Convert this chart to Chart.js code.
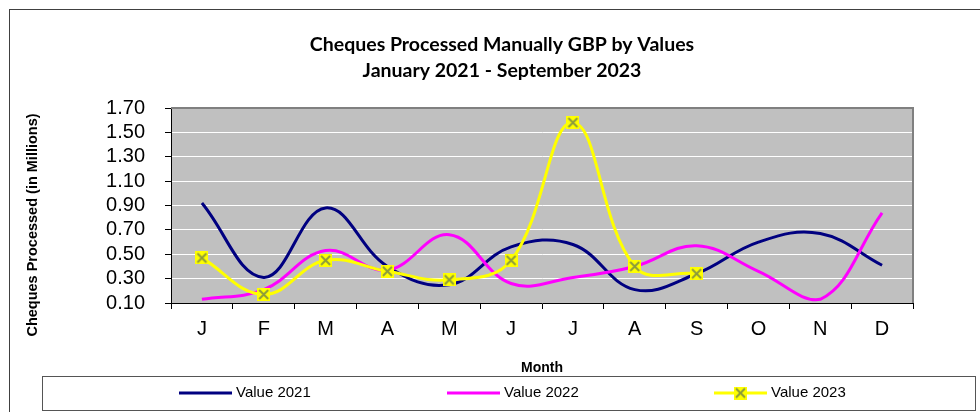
<!DOCTYPE html>
<html>
<head>
<meta charset="utf-8">
<script src="https://cdn.jsdelivr.net/npm/chart.js@4.4.1/dist/chart.umd.min.js"></script>
<style>
  html, body { margin: 0; padding: 0; background: #fff; }
  #wrap { position: relative; width: 980px; height: 412px; }
</style>
</head>
<body>
<div id="wrap"><canvas id="chart" width="980" height="412"></canvas></div>
<script>
// data
const months = ["J", "F", "M", "A", "M", "J", "J", "A", "S", "O", "N", "D"];
const value2021 = [0.92, 0.31, 0.88, 0.40, 0.25, 0.56, 0.58, 0.21, 0.34, 0.60, 0.67, 0.41];
const value2022 = [0.13, 0.21, 0.53, 0.37, 0.66, 0.26, 0.31, 0.40, 0.57, 0.36, 0.13, 0.84];
const value2023 = [0.47, 0.17, 0.45, 0.36, 0.29, 0.45, 1.58, 0.40, 0.34, null, null, null];
const yTicks = [0.10, 0.30, 0.50, 0.70, 0.90, 1.10, 1.30, 1.50, 1.70];

const titleLines = ["Cheques Processed Manually GBP by Values", "January 2021 - September 2023"];
const yTitle = "Cheques Processed (in Millions)";
const xTitle = "Month";

Chart.defaults.font.family = "'Liberation Sans', Arial, sans-serif";
Chart.defaults.color = "#000";

// yellow square with an olive cross, like the Excel marker
function makeMarker() {
    const c = document.createElement("canvas");
    c.width = 13; c.height = 13;
    const g = c.getContext("2d");
    g.fillStyle = "#FFFF00";
    g.fillRect(0, 0, 13, 13);
    g.strokeStyle = "#8C9C3C";
    g.lineWidth = 2;
    g.beginPath();
    g.moveTo(2, 2); g.lineTo(11, 11);
    g.moveTo(11, 2); g.lineTo(2, 11);
    g.stroke();
    return c;
}
const marker = makeMarker();

// grey plot area, outer frame, titles and boxed legend
const framePlugin = {
    id: "frame",
    beforeDraw(chart) {
        const { ctx, chartArea: a } = chart;
        ctx.save();
        ctx.fillStyle = "#C0C0C0";
        ctx.fillRect(a.left, a.top, a.right - a.left, a.bottom - a.top);
        ctx.restore();
    },
    beforeDatasetsDraw(chart) {
        const { ctx, chartArea: a } = chart;
        ctx.save();
        ctx.strokeStyle = "#808080";
        ctx.lineWidth = 2;
        ctx.beginPath();
        ctx.moveTo(a.left, a.top);
        ctx.lineTo(a.right, a.top);
        ctx.lineTo(a.right, a.bottom);
        ctx.stroke();
        ctx.restore();
    },
    afterDraw(chart) {
        const { ctx } = chart;
        ctx.save();
        // outer chart border
        ctx.strokeStyle = "#404040";
        ctx.lineWidth = 1;
        ctx.strokeRect(9.5, 9.5, 1100, 600);

        // chart title, two lines
        ctx.fillStyle = "#000";
        ctx.textAlign = "center";
        ctx.textBaseline = "middle";
        ctx.font = "bold 19.5px Lato, 'Open Sans', sans-serif";
        titleLines.forEach((t, i) => ctx.fillText(t, 502, 45 + i * 26));

        // y axis title
        ctx.translate(33, 225);
        ctx.rotate(-Math.PI / 2);
        ctx.font = "bold 14.5px 'Liberation Sans', Arial, sans-serif";
        ctx.fillText(yTitle, 0, 0);
        ctx.restore();

        // legend box
        ctx.save();
        ctx.strokeStyle = "#555";
        ctx.strokeRect(42.5, 376.5, 933, 34);
        const starts = [179, 447, 714];
        const y = 393;
        ctx.font = "15px 'Liberation Sans', Arial, sans-serif";
        ctx.textBaseline = "middle";
        ctx.fillStyle = "#000";
        chart.data.datasets.forEach((ds, i) => {
            const x = starts[i];
            ctx.strokeStyle = ds.borderColor;
            ctx.lineWidth = 3;
            ctx.beginPath();
            ctx.moveTo(x, y);
            ctx.lineTo(x + 53, y);
            ctx.stroke();
            if (ds.pointStyle instanceof HTMLCanvasElement) {
                ctx.drawImage(ds.pointStyle, x + 20, y - 6.5);
            }
            ctx.fillText(ds.label, x + 57, y);
        });
        ctx.restore();
    }
};

new Chart(document.getElementById("chart"), {
    type: "line",
    data: {
        labels: months,
        datasets: [
            {
                label: "Value 2021",
                data: value2021,
                borderColor: "#000080",
                borderWidth: 3,
                pointRadius: 0,
                tension: 0.4,
                order: 2
            },
            {
                label: "Value 2022",
                data: value2022,
                borderColor: "#FF00FF",
                borderWidth: 3,
                pointRadius: 0,
                tension: 0.4,
                order: 1
            },
            {
                label: "Value 2023",
                data: value2023,
                borderColor: "#FFFF00",
                borderWidth: 3,
                pointStyle: marker,
                pointRadius: 7,
                tension: 0.4,
                order: 0
            }
        ]
    },
    options: {
        responsive: false,
        animation: false,
        layout: { padding: { left: 20, right: 67, top: 108, bottom: 35 } },
        plugins: {
            legend: { display: false },
            tooltip: { enabled: false },
            title: { display: false }
        },
        scales: {
            x: {
                offset: true,
                grid: { offset: true, drawOnChartArea: false, drawTicks: true, tickLength: 6, tickColor: "#000" },
                border: { display: true, color: "#000", width: 1 },
                ticks: { padding: 8, font: { size: 20 }, color: "#000" },
                title: { display: true, text: xTitle, font: { size: 14, weight: "bold" }, padding: { top: 0, bottom: 0 } },
                afterFit: (s) => { s.height = 74; }
            },
            y: {
                min: 0.10,
                max: 1.70,
                afterBuildTicks: (s) => { s.ticks = yTicks.map(v => ({ value: v })); },
                grid: { color: "#FFFFFF", lineWidth: 1, tickLength: 6, tickColor: "#000" },
                border: { display: true, color: "#000", width: 1 },
                ticks: {
                    autoSkip: false,
                    padding: 20,
                    font: { size: 20 },
                    color: "#000",
                    callback: (v) => Number(v).toFixed(2)
                },
                afterFit: (s) => { s.width = 151; }
            }
        }
    },
    plugins: [framePlugin]
});
</script>
</body>
</html>
